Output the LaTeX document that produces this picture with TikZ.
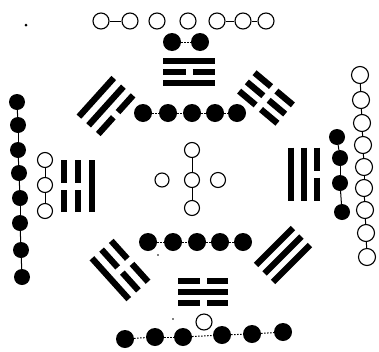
\documentclass[tikz,border=0pt]{standalone}
\newcommand\mytrbar[3]{% v, type(1 solid / 0 broken), length
  \ifnum#2=1
    \draw[trbar] ({-#3/2},#1) -- ({#3/2},#1);
  \else
    \draw[trbar] ({-#3/2},#1) -- (-3.5,#1);
    \draw[trbar] (3.5,#1) -- ({#3/2},#1);
  \fi}
% cx, cy, angle, length, spacing, outer, middle, inner
\newcommand\mytrigram[8]{%
  \begin{scope}[shift={(#1,#2)},rotate=#3]
    \mytrbar{-#5}{#6}{#4}
    \mytrbar{0}{#7}{#4}
    \mytrbar{#5}{#8}{#4}
  \end{scope}}
\begin{document}
\begin{tikzpicture}[x=1pt,y=-1pt,
  wc/.style={circle,draw,line width=1.1pt,inner sep=0pt,minimum size=16pt},
  bc/.style={circle,fill,inner sep=0pt,minimum size=18pt},
  lk/.style={line width=1pt},
  dk/.style={line width=1pt,dash pattern=on 1.5pt off 1.5pt},
  trbar/.style={line width=6.3pt,line cap=butt}]
\useasboundingbox (0,0) rectangle (379,351);

% trigrams (Later Heaven arrangement)
\mytrigram{189}{72}{0}{52}{11}{1}{0}{1}      % Li (top)
\mytrigram{203}{292}{180}{50}{11}{0}{1}{0}   % Kan (bottom)
\mytrigram{78}{186}{90}{52}{14}{0}{0}{1}     % Zhen (left)
\mytrigram{304}{174}{-90}{53}{13}{0}{1}{1}   % Dui (right)
\mytrigram{106}{106}{48}{52}{13}{1}{1}{0}    % Xun (upper left)
\mytrigram{266}{98}{-40}{50}{12}{0}{0}{0}    % Kun (upper right)
\mytrigram{120}{270}{132}{55}{13}{1}{0}{0}   % Gen (lower left)
\mytrigram{283}{255}{-135}{52}{12}{1}{1}{1}  % Qian (lower right)

% top: seven white
\foreach \i/\x in {1/101,2/130,3/157,4/188,5/217,6/243,7/266}
  \node[wc] (t\i) at (\x,21) {};
\draw[lk] (t1) -- (t2);
\draw[lk] (t5) -- (t6);
\draw[lk] (t6) -- (t7);

% top: two black
\node[bc] (p1) at (172,42) {};
\node[bc] (p2) at (200,42) {};
\draw[dk] (p1) -- (p2);

% center: five white, ten black
\node[wc,minimum size=15pt] (c0) at (192,180) {};
\node[wc,minimum size=15pt] (cn) at (192,150) {};
\node[wc,minimum size=15pt] (cs) at (192,208) {};
\node[wc,minimum size=14pt] (cw) at (162,180) {};
\node[wc,minimum size=15pt] (ce) at (218,180) {};
\draw[lk] (cn) -- (c0);
\draw[lk] (c0) -- (cs);

\foreach \i/\x in {1/143,2/168,3/192,4/215,5/237}
  \node[bc] (u\i) at (\x,113) {};
\foreach \i/\x in {1/148,2/173,3/197,4/220,5/243}
  \node[bc] (d\i) at (\x,242) {};
\foreach \a/\b in {1/2,2/3,3/4,4/5} {
  \draw[dk] (u\a) -- (u\b);
  \draw[dk] (d\a) -- (d\b);
}

% bottom: one white, six black
\node[wc] (b0) at (204,322) {};
\foreach \i/\x/\y in {1/125/339,2/155/337,3/183/337,4/222/335,5/252/334,6/283/332}
  \node[bc] (s\i) at (\x,\y) {};
\foreach \a/\b in {1/2,2/3,3/4,4/5,5/6}
  \draw[dk] (s\a) -- (s\b);

% left: three white, eight black
\foreach \i/\x/\y in {1/17/102,2/18/125,3/18/150,4/19/173,5/20/198,6/20/223,7/21/250,8/22/277}
  \node[bc,minimum size=16pt] (l\i) at (\x,\y) {};
\foreach \a/\b in {1/2,2/3,3/4,4/5,5/6,6/7,7/8}
  \draw[lk] (l\a) -- (l\b);
\foreach \i/\y in {1/160,2/185,3/211}
  \node[wc,minimum size=15pt] (w\i) at (45,\y) {};
\draw[lk] (w1) -- (w2);
\draw[lk] (w2) -- (w3);

% right: four black, nine white
\foreach \i/\x/\y in {1/337/137,2/340/158,3/340/183,4/342/212}
  \node[bc,minimum size=16pt] (r\i) at (\x,\y) {};
\foreach \a/\b in {1/2,2/3,3/4}
  \draw[lk] (r\a) -- (r\b);
\foreach \i/\x/\y in {1/360/75,2/361/100,3/362/123,4/363/145,5/364/167,6/364/188,7/365/210,8/366/233,9/367/257}
  \node[wc,minimum size=17pt] (v\i) at (\x,\y) {};
\foreach \a/\b in {1/2,2/3,3/4,4/5,5/6,6/7,7/8,8/9}
  \draw[lk] (v\a) -- (v\b);

% specks
\fill (26,25) circle (1.5);
\fill (158,255) circle (0.8);
\fill (173,319) circle (0.8);
\end{tikzpicture}
\end{document}
